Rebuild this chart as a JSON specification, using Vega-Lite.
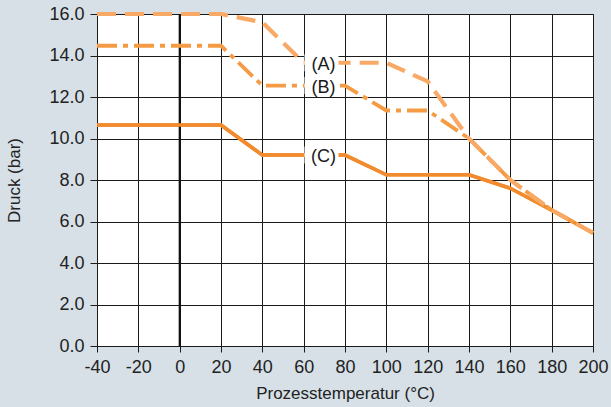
{
  "$schema": "https://vega.github.io/schema/vega-lite/v6.json",
  "width": 496,
  "height": 332,
  "autosize": {"type": "none"},
  "padding": {"left": 97, "top": 14, "right": 18, "bottom": 61},
  "datasets": {
    "lines": [
      {"s": "A", "t": -40, "p": 16}, {"s": "A", "t": 20, "p": 16}, {"s": "A", "t": 40, "p": 15.6}, {"s": "A", "t": 60, "p": 13.65}, {"s": "A", "t": 100, "p": 13.65}, {"s": "A", "t": 120, "p": 12.75}, {"s": "A", "t": 140, "p": 10.0}, {"s": "A", "t": 160, "p": 8.0}, {"s": "A", "t": 180, "p": 6.55}, {"s": "A", "t": 200, "p": 5.45},
      {"s": "B", "t": -40, "p": 14.47}, {"s": "B", "t": 20, "p": 14.47}, {"s": "B", "t": 40, "p": 12.55}, {"s": "B", "t": 80, "p": 12.55}, {"s": "B", "t": 100, "p": 11.35}, {"s": "B", "t": 120, "p": 11.35}, {"s": "B", "t": 140, "p": 10.0}, {"s": "B", "t": 160, "p": 8.0}, {"s": "B", "t": 180, "p": 6.55}, {"s": "B", "t": 200, "p": 5.45},
      {"s": "C", "t": -40, "p": 10.65}, {"s": "C", "t": 20, "p": 10.65}, {"s": "C", "t": 40, "p": 9.2}, {"s": "C", "t": 80, "p": 9.2}, {"s": "C", "t": 100, "p": 8.25}, {"s": "C", "t": 140, "p": 8.25}, {"s": "C", "t": 160, "p": 7.6}, {"s": "C", "t": 180, "p": 6.55}, {"s": "C", "t": 200, "p": 5.45}
    ],
    "labels": [
      {"lab": "(A)", "t": 69.6, "p": 13.65},
      {"lab": "(B)", "t": 69.6, "p": 12.55},
      {"lab": "(C)", "t": 69.6, "p": 9.2}
    ],
    "zero": [{"t": 0}]
  },
  "layer": [
    {
      "data": {"name": "lines"},
      "transform": [{"filter": "datum.s === 'C'"}],
      "mark": {"type": "line", "color": "#F18B2D", "strokeWidth": 3.5},
      "encoding": {
        "x": {"field": "t", "type": "quantitative", "title": "Prozesstemperatur (°C)",
              "scale": {"domain": [-40, 200], "nice": false, "zero": false},
              "axis": {"values": [-40, -20, 0, 20, 40, 60, 80, 100, 120, 140, 160, 180, 200], "labelExpr": "datum.value < 0 ? '-' + abs(datum.value) : '' + datum.value", "labelFlush": false, "labelOverlap": false}},
        "y": {"field": "p", "type": "quantitative", "title": "Druck (bar)",
              "scale": {"domain": [0, 16], "nice": false},
              "axis": {"values": [0, 2, 4, 6, 8, 10, 12, 14, 16], "format": ".1f", "labelFlush": false, "labelOverlap": false}}
      }
    },
    {
      "data": {"name": "zero"},
      "mark": {"type": "rule", "color": "#111111", "strokeWidth": 2},
      "encoding": {
        "x": {"field": "t", "type": "quantitative", "title": "Prozesstemperatur (°C)"}
      }
    },
    {
      "data": {"name": "lines"},
      "transform": [{"filter": "datum.s === 'C'"}],
      "mark": {"type": "line", "color": "#F18B2D", "strokeWidth": 3.5},
      "encoding": {
        "x": {"field": "t", "type": "quantitative", "title": "Prozesstemperatur (°C)"},
        "y": {"field": "p", "type": "quantitative", "title": "Druck (bar)"}
      }
    },
    {
      "data": {"name": "lines"},
      "transform": [{"filter": "datum.s === 'B'"}],
      "mark": {"type": "line", "color": "#F49B44", "strokeWidth": 3.8, "strokeDash": [20, 6, 5, 6]},
      "encoding": {
        "x": {"field": "t", "type": "quantitative", "title": "Prozesstemperatur (°C)"},
        "y": {"field": "p", "type": "quantitative", "title": "Druck (bar)"}
      }
    },
    {
      "data": {"name": "lines"},
      "transform": [{"filter": "datum.s === 'A'"}],
      "mark": {"type": "line", "color": "#F8A965", "strokeWidth": 4.2, "strokeDash": [19, 9]},
      "encoding": {
        "x": {"field": "t", "type": "quantitative", "title": "Prozesstemperatur (°C)"},
        "y": {"field": "p", "type": "quantitative", "title": "Druck (bar)"}
      }
    },
    {
      "data": {"name": "labels"},
      "mark": {"type": "point", "shape": "M-1,-0.5H1V0.5H-1Z", "size": 1156, "filled": true, "fill": "white", "opacity": 1, "strokeWidth": 0, "xOffset": -2},
      "encoding": {
        "x": {"field": "t", "type": "quantitative", "title": "Prozesstemperatur (°C)"},
        "y": {"field": "p", "type": "quantitative", "title": "Druck (bar)"}
      }
    },
    {
      "data": {"name": "labels"},
      "mark": {"type": "text", "font": "Liberation Sans", "fontSize": 18, "color": "#1a1a1a", "baseline": "middle", "align": "center", "dy": 2},
      "encoding": {
        "x": {"field": "t", "type": "quantitative", "title": "Prozesstemperatur (°C)"},
        "y": {"field": "p", "type": "quantitative", "title": "Druck (bar)"},
        "text": {"field": "lab"}
      }
    }
  ],
  "config": {
    "background": "#D6E0E6",
    "view": {"fill": "white", "stroke": "#1a1a1a", "strokeWidth": 1},
    "font": "Liberation Sans",
    "axis": {
      "grid": true, "gridColor": "#1a1a1a", "gridOpacity": 1, "gridWidth": 1,
      "domainColor": "#1a1a1a", "tickColor": "#1a1a1a", "tickWidth": 1,
      "labelColor": "#222222", "titleColor": "#222222",
      "labelFont": "Liberation Sans", "titleFont": "Liberation Sans",
      "labelFontSize": 18, "titleFontSize": 17, "titleFontWeight": "normal"
    },
    "axisX": {"tickSize": 6, "labelPadding": 6, "titlePadding": 9},
    "axisY": {"tickSize": 7, "labelPadding": 6, "titlePadding": 25}
  }
}
